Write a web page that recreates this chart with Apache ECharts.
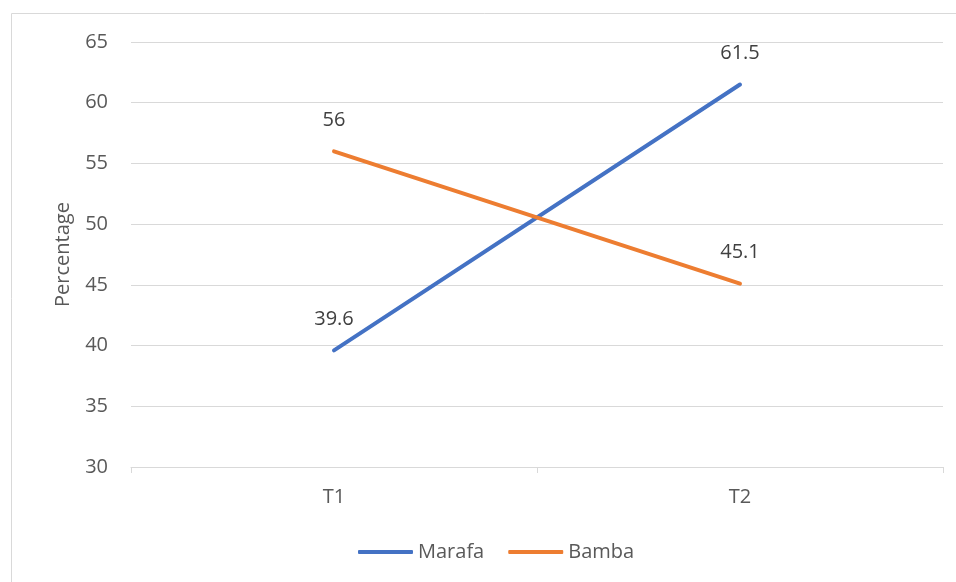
<!DOCTYPE html>
<html>
<head>
<meta charset="utf-8">
<script src="https://cdn.jsdelivr.net/npm/echarts@6/dist/echarts.min.js"></script>
<style>
  html, body { margin: 0; padding: 0; background: #fff; }
  #main { width: 956px; height: 582px; }
</style>
</head>
<body>
<div id="main"></div>
<script>
const categories = ['T1', 'T2'];
const marafa = [39.6, 61.5];
const bamba = [56, 45.1];
const yTicks = { min: 30, max: 65, step: 5 };

const chart = echarts.init(document.getElementById('main'));
const font = '"Open Sans", "Noto Sans", sans-serif';

function lineSeries(name, values, color) {
  return {
    name: name,
    type: 'line',
    data: values,
    symbol: 'circle',
    symbolSize: 2,
    itemStyle: { color: 'rgba(0,0,0,0)', borderWidth: 0 },
    lineStyle: { width: 4, cap: 'round', color: color },
    label: { show: true, position: 'top', distance: 20, color: '#404040', fontSize: 20, fontFamily: font }
  };
}

var option = {
  animation: false,
  textStyle: { fontFamily: font },
  graphic: [{
    type: 'rect',
    shape: { x: 11.5, y: 13.5, width: 960, height: 600 },
    style: { fill: 'none', stroke: '#d9d9d9', lineWidth: 1 },
    silent: true
  }],
  grid: { left: 131, right: 13, top: 42, bottom: 115 },
  legend: {
    top: 537,
    left: 353,
    itemWidth: 55,
    itemHeight: 4,
    itemGap: 24,
    icon: 'roundRect',
    textStyle: { color: '#595959', fontSize: 20, fontFamily: font },
    data: [
      { name: 'Marafa', itemStyle: { color: '#4472c4', borderWidth: 0 } },
      { name: 'Bamba', itemStyle: { color: '#ed7d31', borderWidth: 0 } }
    ]
  },
  xAxis: {
    type: 'category',
    data: categories,
    boundaryGap: true,
    axisLine: { lineStyle: { color: '#d9d9d9', width: 1 } },
    axisTick: { show: true, length: 6, lineStyle: { color: '#d9d9d9' } },
    axisLabel: { color: '#595959', fontSize: 20, margin: 20 }
  },
  yAxis: {
    type: 'value',
    min: yTicks.min,
    max: yTicks.max,
    interval: yTicks.step,
    name: 'Percentage',
    nameLocation: 'middle',
    nameGap: 58,
    nameTextStyle: { color: '#595959', fontSize: 20 },
    axisLine: { show: false },
    axisTick: { show: false },
    axisLabel: { color: '#595959', fontSize: 20, margin: 23 },
    splitLine: { lineStyle: { color: '#d9d9d9', width: 1 } }
  },
  series: [
    lineSeries('Marafa', marafa, '#4472c4'),
    lineSeries('Bamba', bamba, '#ed7d31')
  ]
};
chart.setOption(option);
</script>
</body>
</html>
